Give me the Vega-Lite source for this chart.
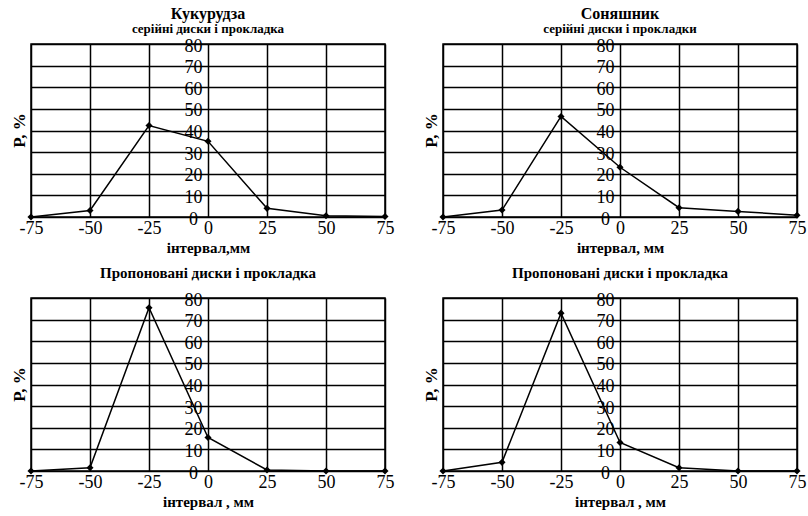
{
  "$schema": "https://vega.github.io/schema/vega-lite/v6.json",
  "background": "white",
  "padding": {"left": 9, "top": 5, "right": 0, "bottom": 0},
  "columns": 2,
  "spacing": {"row": 9, "column": 26},
  "config": {
    "font": "Liberation Serif",
    "view": {"stroke": "black", "strokeWidth": 1.5},
    "axis": {"gridColor": "black", "gridOpacity": 1, "gridWidth": 1.5, "domain": false, "ticks": false, "labelColor": "black", "titleColor": "black", "labelFont": "Liberation Serif", "titleFont": "Liberation Serif", "labelOverlap": false},
    "title": {"font": "Liberation Serif", "fontWeight": "bold", "color": "black", "subtitleFont": "Liberation Serif", "subtitleFontWeight": "bold", "subtitleColor": "black", "anchor": "middle"}
  },
  "concat": [
    {
      "width": 354, "height": 173,
      "title": {"text": "Кукурудза", "subtitle": "серійні диски і прокладка", "fontSize": 16, "subtitleFontSize": 13, "offset": 1, "subtitlePadding": 1},
      "data": {"values": [
        {"interval": -75, "p": 0}, {"interval": -50, "p": 3}, {"interval": -25, "p": 42.3},
        {"interval": 0, "p": 35}, {"interval": 25, "p": 4}, {"interval": 50, "p": 0.6}, {"interval": 75, "p": 0.2}
      ]},
      "mark": {"type": "line", "color": "black", "strokeWidth": 1.5, "point": {"shape": "diamond", "filled": true, "color": "black", "size": 50}},
      "encoding": {
        "x": {"field": "interval", "type": "quantitative", "scale": {"domain": [-75, 75], "nice": false},
          "axis": {"values": [-75, -50, -25, 0, 25, 50, 75], "labelExpr": "replace(datum.label, '−', '-')", "title": "інтервал,мм", "labelFontSize": 18, "labelFlush": false, "labelPadding": 2, "titleFontSize": 15, "titleFontWeight": "bold", "titlePadding": 3}},
        "y": {"field": "p", "type": "quantitative", "scale": {"domain": [0, 80], "nice": false},
          "axis": {"values": [0, 10, 20, 30, 40, 50, 60, 70, 80], "title": "P, %", "offset": -177, "labelAlign": "center", "labelPadding": 15, "labelFontSize": 18, "labelOffset": 2, "titleX": -189, "titleY": 86, "titleBaseline": "middle", "titleAlign": "center", "titleAngle": -90, "titleFontSize": 17, "titleFontWeight": "bold"}}
      }
    },
    {
      "width": 354, "height": 173,
      "title": {"text": "Соняшник", "subtitle": "серійні диски і прокладки", "fontSize": 16, "subtitleFontSize": 13, "offset": 1, "subtitlePadding": 1},
      "data": {"values": [
        {"interval": -75, "p": 0}, {"interval": -50, "p": 3.2}, {"interval": -25, "p": 46.5},
        {"interval": 0, "p": 23}, {"interval": 25, "p": 4.3}, {"interval": 50, "p": 2.6}, {"interval": 75, "p": 0.8}
      ]},
      "mark": {"type": "line", "color": "black", "strokeWidth": 1.5, "point": {"shape": "diamond", "filled": true, "color": "black", "size": 50}},
      "encoding": {
        "x": {"field": "interval", "type": "quantitative", "scale": {"domain": [-75, 75], "nice": false},
          "axis": {"values": [-75, -50, -25, 0, 25, 50, 75], "labelExpr": "replace(datum.label, '−', '-')", "title": "інтервал, мм", "labelFontSize": 18, "labelFlush": false, "labelPadding": 2, "titleFontSize": 15, "titleFontWeight": "bold", "titlePadding": 3}},
        "y": {"field": "p", "type": "quantitative", "scale": {"domain": [0, 80], "nice": false},
          "axis": {"values": [0, 10, 20, 30, 40, 50, 60, 70, 80], "title": "P, %", "offset": -177, "labelAlign": "center", "labelPadding": 15, "labelFontSize": 18, "labelOffset": 2, "titleX": -189, "titleY": 86, "titleBaseline": "middle", "titleAlign": "center", "titleAngle": -90, "titleFontSize": 17, "titleFontWeight": "bold"}}
      }
    },
    {
      "width": 354, "height": 173,
      "title": {"text": "Пропоновані диски і прокладка", "fontSize": 15, "offset": 10},
      "data": {"values": [
        {"interval": -75, "p": 0}, {"interval": -50, "p": 1.5}, {"interval": -25, "p": 75.5},
        {"interval": 0, "p": 15.5}, {"interval": 25, "p": 0.5}, {"interval": 50, "p": 0}, {"interval": 75, "p": 0}
      ]},
      "mark": {"type": "line", "color": "black", "strokeWidth": 1.5, "point": {"shape": "diamond", "filled": true, "color": "black", "size": 50}},
      "encoding": {
        "x": {"field": "interval", "type": "quantitative", "scale": {"domain": [-75, 75], "nice": false},
          "axis": {"values": [-75, -50, -25, 0, 25, 50, 75], "labelExpr": "replace(datum.label, '−', '-')", "title": "інтервал , мм", "labelFontSize": 18, "labelFlush": false, "labelPadding": 2, "titleFontSize": 15, "titleFontWeight": "bold", "titlePadding": 3}},
        "y": {"field": "p", "type": "quantitative", "scale": {"domain": [0, 80], "nice": false},
          "axis": {"values": [0, 10, 20, 30, 40, 50, 60, 70, 80], "title": "P, %", "offset": -177, "labelAlign": "center", "labelPadding": 15, "labelFontSize": 18, "labelOffset": 2, "titleX": -189, "titleY": 86, "titleBaseline": "middle", "titleAlign": "center", "titleAngle": -90, "titleFontSize": 17, "titleFontWeight": "bold"}}
      }
    },
    {
      "width": 354, "height": 173,
      "title": {"text": "Пропоновані диски і прокладка", "fontSize": 15, "offset": 10},
      "data": {"values": [
        {"interval": -75, "p": 0}, {"interval": -50, "p": 4}, {"interval": -25, "p": 73},
        {"interval": 0, "p": 13.2}, {"interval": 25, "p": 1.5}, {"interval": 50, "p": 0}, {"interval": 75, "p": 0}
      ]},
      "mark": {"type": "line", "color": "black", "strokeWidth": 1.5, "point": {"shape": "diamond", "filled": true, "color": "black", "size": 50}},
      "encoding": {
        "x": {"field": "interval", "type": "quantitative", "scale": {"domain": [-75, 75], "nice": false},
          "axis": {"values": [-75, -50, -25, 0, 25, 50, 75], "labelExpr": "replace(datum.label, '−', '-')", "title": "інтервал , мм", "labelFontSize": 18, "labelFlush": false, "labelPadding": 2, "titleFontSize": 15, "titleFontWeight": "bold", "titlePadding": 3}},
        "y": {"field": "p", "type": "quantitative", "scale": {"domain": [0, 80], "nice": false},
          "axis": {"values": [0, 10, 20, 30, 40, 50, 60, 70, 80], "title": "P, %", "offset": -177, "labelAlign": "center", "labelPadding": 15, "labelFontSize": 18, "labelOffset": 2, "titleX": -189, "titleY": 86, "titleBaseline": "middle", "titleAlign": "center", "titleAngle": -90, "titleFontSize": 17, "titleFontWeight": "bold"}}
      }
    }
  ]
}
